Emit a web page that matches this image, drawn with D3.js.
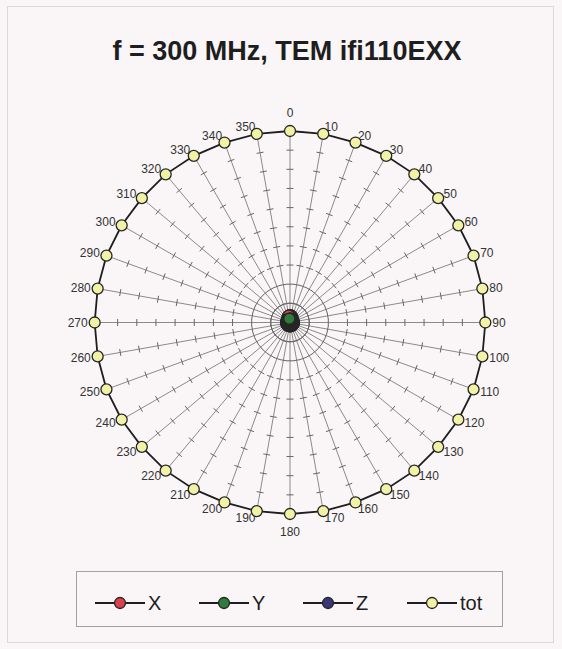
<!DOCTYPE html>
<html><head><meta charset="utf-8">
<script src="https://cdn.jsdelivr.net/npm/d3@7"></script>
<style>html,body{margin:0;padding:0;background:#faf6f7;} svg{display:block;}</style>
</head><body>
<svg id="chart" width="562" height="649"></svg>
<script>
const title = "f = 300 MHz, TEM ifi110EXX";
const angles = [0,10,20,30,40,50,60,70,80,90,100,110,120,130,140,150,160,170,180,190,200,210,220,230,240,250,260,270,280,290,300,310,320,330,340,350];
const angleLabels = ["0","10","20","30","40","50","60","70","80","90","100","110","120","130","140","150","160","170","180","190","200","210","220","230","240","250","260","270","280","290","300","310","320","330","340","350"];
const radialTicks = [1,2,3,4,5,6,7,8,9];
const seriesNames = ["X","Y","Z","tot"];
const seriesColors = ["#d9414f","#2f7a3c","#3b3676","#f2f2a6"];
const xValues = [0.38,0.37,0.33,0.28,0.22,0.15,0.1,0.1,0.1,0.1,0.1,0.1,0.1,0.1,0.1,0.1,0.1,0.1,0.1,0.1,0.1,0.1,0.1,0.1,0.1,0.1,0.1,0.1,0.1,0.1,0.1,0.15,0.22,0.28,0.33,0.37];
const yValues = [0.2,0.2,0.2,0.2,0.2,0.2,0.2,0.2,0.2,0.2,0.2,0.2,0.2,0.2,0.2,0.2,0.2,0.2,0.2,0.2,0.2,0.2,0.2,0.2,0.2,0.2,0.2,0.2,0.2,0.2,0.2,0.2,0.2,0.2,0.2,0.2];
const zValues = [0.15,0.15,0.15,0.15,0.15,0.15,0.15,0.15,0.15,0.15,0.15,0.15,0.15,0.15,0.15,0.15,0.15,0.15,0.15,0.15,0.15,0.15,0.15,0.15,0.15,0.15,0.15,0.15,0.15,0.15,0.15,0.15,0.15,0.15,0.15,0.15];
const totValues = [10.0,10.0,10.0,10.05,10.1,10.1,10.15,10.2,10.2,10.2,10.2,10.2,10.15,10.1,10.1,10.05,10.0,10.0,10.0,10.0,10.0,10.05,10.1,10.1,10.15,10.2,10.2,10.2,10.2,10.2,10.15,10.1,10.1,10.05,10.0,10.0];

const svg = d3.select("#chart");
const cx = 290, cy = 322.5;

// panel frame
svg.append("rect").attr("x",7.5).attr("y",6.5).attr("width",546).attr("height",636)
  .attr("fill","none").attr("stroke","#dcd8da").attr("stroke-width",1);

svg.append("text").attr("x",287).attr("y",60).attr("text-anchor","middle")
  .attr("font-family","Liberation Sans, Arial, sans-serif").attr("font-weight","bold")
  .attr("font-size",27).attr("fill","#1e1e1e").text(title);

const aScale = d3.scaleLinear().domain([0,360]).range([0, 2*Math.PI]);
const rScale = d3.scaleLinear().domain([0,10]).range([0,191.5]);
function proj(a, v){ const t = aScale(a), r = rScale(v); return [cx + r*Math.sin(t), cy - r*Math.cos(t)]; }

const g = svg.append("g");
// spokes
angles.forEach(a => {
  const p = proj(a, 10);
  g.append("line").attr("x1",cx).attr("y1",cy).attr("x2",p[0]).attr("y2",p[1])
    .attr("stroke","#8a8a8a").attr("stroke-width",1);
  radialTicks.forEach(t => {
    const q = proj(a, t), th = aScale(a), h = 3.5;
    g.append("line").attr("x1",q[0]-h*Math.cos(th)).attr("y1",q[1]-h*Math.sin(th))
      .attr("x2",q[0]+h*Math.cos(th)).attr("y2",q[1]+h*Math.sin(th))
      .attr("stroke","#666").attr("stroke-width",1);
  });
});

// angle labels
angles.forEach((a,i) => {
  const p = proj(a, totValues[i]), th = aScale(a);
  let x, y, anchor;
  if (a === 0 || a === 180) { x = p[0]; y = p[1] + (a===0 ? -18 : 18); anchor = "middle"; }
  else { x = p[0] + 7*Math.sin(th); y = p[1] - 7*Math.cos(th); anchor = a < 180 ? "start" : "end"; }
  g.append("text").attr("x",x).attr("y",y).attr("dy","0.35em").attr("text-anchor",anchor)
    .attr("font-family","Liberation Sans, Arial, sans-serif").attr("font-size",12)
    .attr("fill","#333").text(angleLabels[i]);
});

const line = d3.line().curve(d3.curveLinearClosed);
const drawOrder = [2,0,1,3];
const allValues = [xValues,yValues,zValues,totValues];
drawOrder.forEach(si => {
  const vals = allValues[si];
  const pts = angles.map((a,i) => proj(a, vals[i]));
  g.append("path").attr("d", line(pts)).attr("fill","none").attr("stroke","#1e1e1e").attr("stroke-width",1.8);
  g.selectAll(null).data(pts).enter().append("circle")
    .attr("cx",d=>d[0]).attr("cy",d=>d[1]).attr("r",5.5)
    .attr("fill",seriesColors[si]).attr("stroke","#262626").attr("stroke-width",1.3);
});

// legend
const lg = svg.append("g");
lg.append("rect").attr("x",76.5).attr("y",571.5).attr("width",426).attr("height",55)
  .attr("fill","none").attr("stroke","#a4a0a2").attr("stroke-width",1);
seriesNames.forEach((n,i) => {
  const x0 = 95 + i*104, y0 = 603;
  lg.append("line").attr("x1",x0).attr("x2",x0+50).attr("y1",y0).attr("y2",y0)
    .attr("stroke","#1e1e1e").attr("stroke-width",1.8);
  lg.append("circle").attr("cx",x0+25).attr("cy",y0).attr("r",5.5)
    .attr("fill",seriesColors[i]).attr("stroke","#262626").attr("stroke-width",1.3);
  lg.append("text").attr("x",x0+53).attr("y",y0).attr("dy","0.35em")
    .attr("font-family","Liberation Sans, Arial, sans-serif").attr("font-size",20)
    .attr("fill","#1e1e1e").text(n);
});
</script>
</body></html>
